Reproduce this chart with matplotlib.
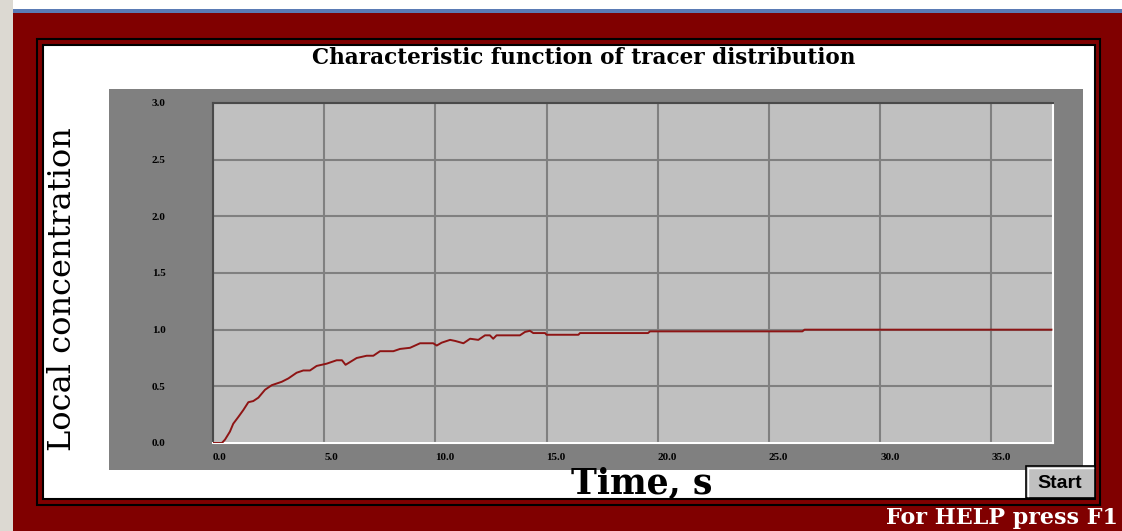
import numpy as np
import matplotlib.pyplot as plt
from matplotlib.patches import Rectangle

# curve
time_s = [0, 0.4, 0.54, 0.76, 0.91, 1.14, 1.36, 1.59, 1.81, 2.04,
          2.34, 2.64, 3.09, 3.39, 3.76, 4.06, 4.36, 4.66, 5.11, 5.56,
          5.8, 5.96, 6.46, 6.91, 7.21, 7.51, 8.11, 8.41, 8.86, 9.31,
          9.9, 10.06, 10.28, 10.66, 10.9, 11.26, 11.56, 11.93, 12.23, 12.45,
          12.6, 12.75, 13.8, 14.03, 14.25, 14.4, 14.93, 15.0, 16.43, 16.5,
          19.56, 19.65, 26.5, 26.6, 37.7]
conc = [0, 0, 0.03, 0.10, 0.17, 0.23, 0.29, 0.36, 0.37, 0.40,
        0.47, 0.51, 0.54, 0.57, 0.62, 0.64, 0.64, 0.68, 0.70, 0.73,
        0.73, 0.69, 0.75, 0.77, 0.77, 0.81, 0.81, 0.83, 0.84, 0.88,
        0.88, 0.86, 0.885, 0.91, 0.90, 0.88, 0.92, 0.91, 0.95, 0.95,
        0.92, 0.95, 0.95, 0.98, 0.99, 0.97, 0.97, 0.955, 0.955, 0.97,
        0.97, 0.985, 0.985, 1.0, 1.0]

xticks = [0, 5, 10, 15, 20, 25, 30, 35]
yticks = [0, 0.5, 1.0, 1.5, 2.0, 2.5, 3.0]

title = "Characteristic function of tracer distribution"
xlabel = "Time, s"
ylabel = "Local concentration"

W, H = 1122, 531
fig = plt.figure(figsize=(W / 100, H / 100), dpi=100)
fig.patch.set_facecolor("white")

# window / panel decoration, drawn in pixel units
bg = fig.add_axes([0, 0, 1, 1])
bg.set_xlim(0, W)
bg.set_ylim(H, 0)
bg.axis("off")

dark_red = "#800000"
bg.add_patch(Rectangle((0, 0), 13, H, color="#dcd9d2", lw=0))
bg.add_patch(Rectangle((13, 9), W, 4, color="#5a7bb5", lw=0))
bg.add_patch(Rectangle((13, 13), W, H, color=dark_red, lw=0))
bg.add_patch(Rectangle((37, 39), 1063, 466, fc="none", ec="black", lw=1.5))
bg.add_patch(Rectangle((43, 45), 1052, 454, fc="white", ec="black", lw=1.5))
bg.add_patch(Rectangle((109, 89), 974, 381, color="#808080", lw=0))

# Start button
bg.add_patch(Rectangle((1026, 466), 69, 32, fc="#c0c0c0", ec="black", lw=1.2))
bg.plot([1028, 1028, 1093], [496, 468, 468], color="white", lw=1)
bg.text(1060, 483, "Start", ha="center", va="center", fontsize=14,
        fontweight="bold", family="Liberation Sans", color="black")

bg.text(584, 58, title, ha="center", va="center", fontsize=15.5,
        fontweight="bold", family="DejaVu Serif")
bg.text(642, 484, xlabel, ha="center", va="center", fontsize=25,
        fontweight="bold", family="DejaVu Serif")
bg.text(63, 289, ylabel, ha="center", va="center", fontsize=23,
        rotation=90, family="DejaVu Serif")
bg.text(1118, 518, "For HELP press F1", ha="right", va="center",
        fontsize=16, fontweight="bold", family="DejaVu Serif", color="white")

# plot area
ax = fig.add_axes([213 / W, 1 - 443 / H, 840 / W, 340 / H])
ax.set_facecolor("#c0c0c0")
ax.plot(time_s, conc, color="#8e1414", lw=1.4, zorder=3)
ax.set_xlim(0, 37.77)
ax.set_ylim(0, 3.0)
ax.set_xticks(xticks)
ax.set_yticks(yticks)
ax.set_xticklabels(["{:.1f}".format(v) for v in xticks], ha="left")
ax.set_yticklabels(["{:.1f}".format(v) for v in yticks])
ax.tick_params(length=0)
ax.tick_params(axis="y", pad=34)
ax.tick_params(axis="x", pad=7.5)
for lab in ax.get_xticklabels() + ax.get_yticklabels():
    lab.set_family("Liberation Serif")
    lab.set_fontweight("bold")
    lab.set_fontsize(8)
ax.grid(True, color="#808080", lw=1.5)
ax.set_axisbelow(True)
ax.spines["left"].set_color("#4a4a4a")
ax.spines["top"].set_color("#4a4a4a")
ax.spines["right"].set_color("white")
ax.spines["bottom"].set_color("white")
for s in ax.spines.values():
    s.set_linewidth(1.5)

fig.savefig("out.png", dpi=100)
